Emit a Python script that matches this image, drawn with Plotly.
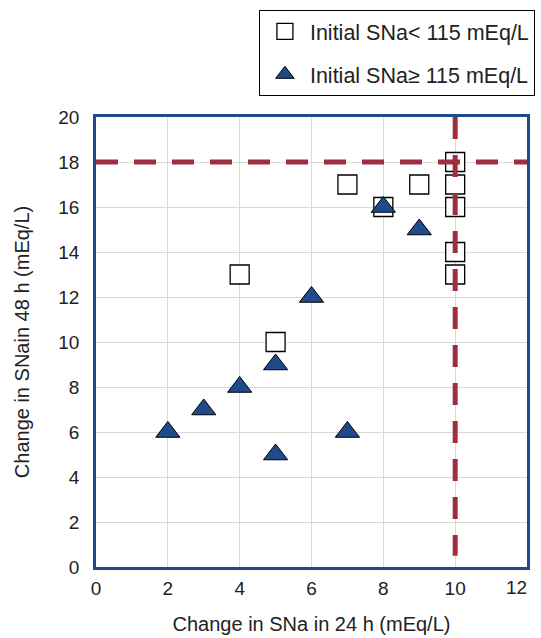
import plotly.graph_objects as go

low_x = [4, 5, 7, 8, 9, 10, 10, 10, 10, 10]
low_y = [13, 10, 17, 16, 17, 18, 17, 16, 14, 13]
high_x = [2, 3, 4, 5, 5, 6, 7, 8, 9]
high_y = [6, 7, 8, 9, 5, 12, 6, 16, 15]
cut_x = 10
cut_y = 18
x_ticks = [0, 2, 4, 6, 8, 10, 12]
x_labels = ["0", "2", "4", "6", "8", "10", "12"]
y_ticks = [0, 2, 4, 6, 8, 10, 12, 14, 16, 18, 20]

red = "#9E2F40"
blue = "#1F4A8C"
font = "Liberation Sans, Arial, sans-serif"
txt = "#222222"

fig = go.Figure()
fig.add_trace(go.Scatter(
    x=low_x, y=low_y, mode="markers", name="Initial SNa< 115 mEq/L",
    legendgroup="a",
    marker=dict(symbol="square", size=19, color="white", line=dict(color="black", width=1.3)),
    cliponaxis=False))
fig.add_trace(go.Scatter(
    x=high_x, y=high_y, mode="markers", name="Initial SNa≥ 115 mEq/L",
    legendgroup="b",
    marker=dict(symbol="triangle-up", size=21, color=blue, line=dict(color="black", width=1)),
    cliponaxis=False))
fig.add_trace(go.Scatter(
    x=[cut_x, cut_x], y=[20, 0.5], mode="lines", showlegend=False,
    line=dict(color=red, width=5, dash="22px,16px"), hoverinfo="skip"))
fig.add_trace(go.Scatter(
    x=[0, 12], y=[cut_y, cut_y], mode="lines", showlegend=False,
    line=dict(color=red, width=5, dash="22px,16px"), hoverinfo="skip"))

axis_common = dict(
    showgrid=True, gridcolor="#D9D9D9", gridwidth=1,
    showline=True, linecolor=blue, linewidth=2.5, mirror=True,
    zeroline=False, ticks="", automargin=False,
    tickfont=dict(size=19, color=txt, family=font),
)
# last x tick label sits at the window edge, so it is right-aligned as an annotation
fig.update_xaxes(range=[0, 12], tickvals=x_ticks[:-1], ticktext=x_labels[:-1], ticklabelstandoff=2,
                 title=dict(text="Change in SNa in 24 h (mEq/L)", font=dict(size=20, color=txt, family=font), standoff=20),
                 **axis_common)
fig.update_yaxes(range=[0, 20], tickvals=y_ticks, ticklabelstandoff=10,
                 title=dict(text="Change in SNain 48 h (mEq/L)", font=dict(size=20, color=txt, family=font), standoff=24),
                 **axis_common)
fig.add_annotation(x=x_ticks[-1], xref="x", y=0, yref="paper", text=x_labels[-1],
                   xanchor="right", yanchor="top", yshift=-8, xshift=2, showarrow=False,
                   font=dict(size=19, color=txt, family=font))

fig.update_layout(
    width=541, height=638,
    margin=dict(l=96, r=6, t=117, b=71),
    paper_bgcolor="white", plot_bgcolor="white",
    font=dict(family=font, size=19, color=txt),
    showlegend=True,
    legend=dict(x=0.378, y=1.238, xanchor="left", yanchor="top",
                bordercolor="black", borderwidth=1, bgcolor="white",
                font=dict(size=21.5, family=font, color=txt),
                itemsizing="trace", tracegroupgap=12, itemwidth=40),
)
fig.write_html("out.html", config={"displayModeBar": False},
               post_script="document.body.style.margin='0';document.body.style.overflow='hidden';")
